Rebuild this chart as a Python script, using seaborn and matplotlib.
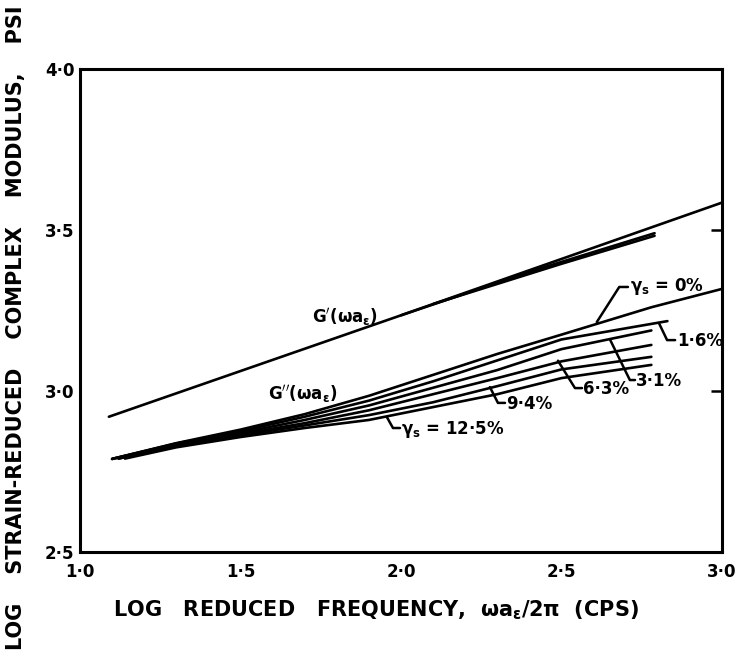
import numpy as np
import pandas as pd
import matplotlib
matplotlib.use("Agg")
import matplotlib.pyplot as plt
import seaborn as sns

# storage modulus G'
gp_x = [1.09, 2.0, 3.0]
gp_y = [2.92, 3.235, 3.585]
# G' at higher strains (overlapping near the end)
gp2_x = [2.0, 2.4, 2.79]
gp2_y = [3.235, 3.37, 3.49]
gp3_x = [2.1, 2.5, 2.79]
gp3_y = [3.27, 3.395, 3.482]

# loss modulus G'' at strain amplitudes
g0_x = [1.10, 1.30, 1.50, 1.70, 1.90, 2.10, 2.30, 2.50, 2.78, 3.0]
g0_y = [2.789, 2.838, 2.880, 2.928, 2.985, 3.050, 3.115, 3.175, 3.260, 3.317]
g16_x = [1.10, 1.30, 1.50, 1.70, 1.90, 2.10, 2.30, 2.50, 2.83]
g16_y = [2.789, 2.837, 2.875, 2.920, 2.970, 3.030, 3.095, 3.160, 3.217]
g31_x = [1.10, 1.30, 1.50, 1.70, 1.90, 2.10, 2.30, 2.50, 2.78]
g31_y = [2.789, 2.835, 2.870, 2.910, 2.955, 3.010, 3.065, 3.130, 3.188]
g63_x = [1.12, 1.30, 1.50, 1.70, 1.90, 2.10, 2.30, 2.50, 2.78]
g63_y = [2.790, 2.833, 2.866, 2.900, 2.940, 2.990, 3.040, 3.092, 3.143]
g94_x = [1.12, 1.30, 1.50, 1.70, 1.90, 2.10, 2.30, 2.50, 2.78]
g94_y = [2.790, 2.830, 2.862, 2.893, 2.925, 2.965, 3.015, 3.067, 3.106]
g125_x = [1.14, 1.30, 1.50, 1.70, 1.90, 2.10, 2.30, 2.50, 2.78]
g125_y = [2.790, 2.825, 2.857, 2.885, 2.910, 2.950, 2.990, 3.040, 3.081]

xticks = [1.0, 1.5, 2.0, 2.5, 3.0]
xtick_labels = ["1·0", "1·5", "2·0", "2·5", "3·0"]
yticks = [2.5, 3.0, 3.5, 4.0]
ytick_labels = ["2·5", "3·0", "3·5", "4·0"]

series = {
    "Gp": (gp_x, gp_y), "Gp2": (gp2_x, gp2_y), "Gp3": (gp3_x, gp3_y),
    "0": (g0_x, g0_y), "1.6": (g16_x, g16_y), "3.1": (g31_x, g31_y),
    "6.3": (g63_x, g63_y), "9.4": (g94_x, g94_y), "12.5": (g125_x, g125_y),
}
df = pd.concat([pd.DataFrame({"x": sx, "y": sy, "curve": k}) for k, (sx, sy) in series.items()])

sns.set_style("white")
plt.rcParams["font.family"] = ["DejaVu Sans Condensed", "DejaVu Sans"]
plt.rcParams["font.weight"] = "bold"
plt.rcParams["text.color"] = "black"
plt.rcParams["xtick.color"] = "black"
plt.rcParams["ytick.color"] = "black"
plt.rcParams["mathtext.fontset"] = "dejavusans"
plt.rcParams["mathtext.default"] = "bf"

fig = plt.figure(figsize=(7.38, 6.52), dpi=100)
ax = fig.add_axes([0.1084, 0.1534, 0.8699, 0.7408])

sns.lineplot(data=df, x="x", y="y", units="curve", estimator=None, color="black",
             linewidth=1.9, sort=False, ax=ax, legend=False)

ax.set_xlim(1.0, 3.0)
ax.set_ylim(2.5, 4.0)
ax.set_xticks(xticks)
ax.set_xticklabels(xtick_labels)
ax.set_yticks(yticks)
ax.set_yticklabels(ytick_labels)
ax.tick_params(axis="x", length=0, pad=8, labelsize=12)
ax.tick_params(axis="y", direction="in", length=8, width=1.8, pad=4, labelsize=12,
               right=True)
ax.set_xlabel("")
ax.set_ylabel("")
for s in ax.spines.values():
    s.set_linewidth(2.2)
    s.set_color("black")

# pointer leaders
leaders = [
    ([2.61, 2.68, 2.707], [3.214, 3.323, 3.323]),
    ([2.804, 2.829, 2.854], [3.21, 3.158, 3.158]),
    ([2.651, 2.713, 2.729], [3.16, 3.034, 3.034]),
    ([2.489, 2.542, 2.564], [3.094, 3.009, 3.009]),
    ([2.277, 2.302, 2.324], [3.012, 2.963, 2.963]),
    ([1.956, 1.975, 1.997], [2.919, 2.885, 2.885]),
]
for lx, ly in leaders:
    ax.plot(lx, ly, color="black", lw=1.8)

tk = dict(fontsize=12, fontweight="bold", va="center")
ax.text(1.826, 3.23, r"G$'$($\omega a_\epsilon$)", ha="center", **tk)
ax.text(1.695, 2.99, r"G$''$($\omega a_\epsilon$)", ha="center", **tk)
ax.text(2.712, 3.325, r"$\gamma_s$ = 0%", ha="left", **tk)
ax.text(2.86, 3.155, "1·6%", ha="left", **tk)
ax.text(2.733, 3.031, "3·1%", ha="left", **tk)
ax.text(2.568, 3.006, "6·3%", ha="left", **tk)
ax.text(2.328, 2.96, "9·4%", ha="left", **tk)
ax.text(2.0, 2.88, r"$\gamma_s$ = 12·5%", ha="left", **tk)

fig.text(376 / 738, 1 - 610 / 652, r"LOG   REDUCED   FREQUENCY,  $\omega a_\epsilon / 2\pi$  (CPS)",
         ha="center", va="center", fontsize=15, fontweight="bold")
fig.text(16 / 738, 1 - 328 / 652, "LOG    STRAIN-REDUCED    COMPLEX    MODULUS,    PSI",
         ha="center", va="center", rotation=90, fontsize=15, fontweight="bold")

fig.savefig("out.png", dpi=100)
